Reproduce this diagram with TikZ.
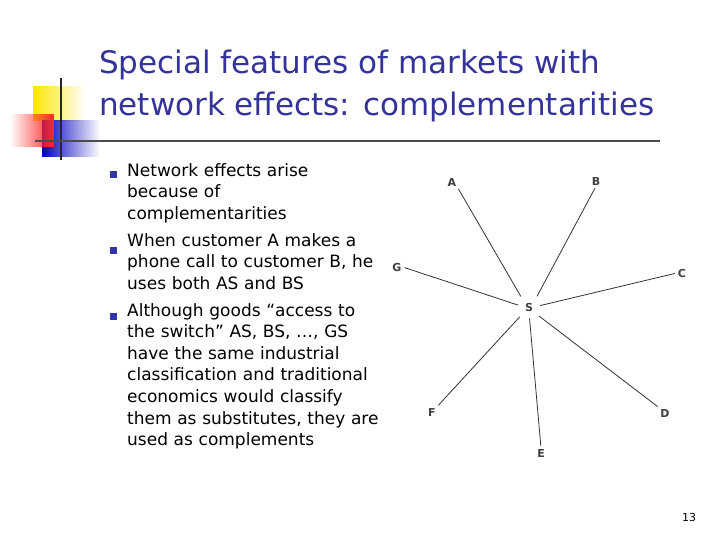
\documentclass[tikz,border=0pt]{standalone}
\usepackage{fontspec}
\setmainfont{DejaVu Sans}
\usetikzlibrary{fadings}
\definecolor{ttl}{RGB}{51,51,153}
\definecolor{bul}{RGB}{51,51,170}
\begin{document}
\begin{tikzpicture}[x=1pt,y=-1pt,
  lbl/.style={font=\fontsize{11}{13}\selectfont\bfseries,text=black!75,inner sep=1pt},
  body/.style={anchor=north west,align=left,font=\fontsize{17}{21.6}\selectfont,inner sep=0pt,text width=270pt},
  spk/.style={draw=black!80,line width=0.8pt,shorten >=6pt,shorten <=2pt}]
\useasboundingbox (0,0) rectangle (720,540);
\fill[white] (0,0) rectangle (720,540);
% logo
\fill[yellow!90!orange,path fading=east] (33,86) rectangle (85,121);
\fill[blue!75!black,path fading=east] (42,120) rectangle (100,157);
\fill[red!85,path fading=west] (10,114) rectangle (54,147);
\draw[black!85,line width=1.5pt] (61,78) -- (61,160);
\draw[black!70,line width=1.2pt] (35,141) -- (660,141);
% title
\node[anchor=west,text=ttl,font=\fontsize{31}{42}\selectfont,align=left,inner sep=0pt] (title) at (99,86)
  {Special features of markets with\\network effects: complementarities};
% bullets
\foreach \y in {175,250,316} \fill[bul] (110,\y-3.5) rectangle (117,\y+3.5);
\node[body] (t1) at (127,163) {Network effects arise\\because of\\complementarities};
\node[body] (t2) at (127,233) {When customer A makes a\\phone call to customer B, he\\uses both AS and BS};
\node[body] (t3) at (127,303) {Although goods “access to\\the switch” AS, BS, …, GS\\have the same industrial\\classification and traditional\\economics would classify\\them as substitutes, they are\\used as complements};
% network
\node[lbl] (S) at (529,307) {S};
\node[lbl] (A) at (452,182) {A};
\node[lbl] (B) at (596,181) {B};
\node[lbl] (C) at (682,273) {C};
\node[lbl] (G) at (397,267) {G};
\node[lbl] (F) at (432,412) {F};
\node[lbl] (D) at (665,413) {D};
\node[lbl] (E) at (541,453) {E};
\draw[spk] (A.south east) -- (S.north west);
\draw[spk] (B.south) -- (S.north east);
\draw[spk] (C.west) -- (S.east);
\draw[spk] (G.east) -- (S.west);
\draw[spk] (F.north east) -- (S.south west);
\draw[spk] (D.north west) -- (S.south east);
\draw[spk] (E.north) -- (S.south);
\node[font=\fontsize{11}{13}\selectfont,inner sep=0pt] (pg) at (689,517) {13};
\end{tikzpicture}
\end{document}
